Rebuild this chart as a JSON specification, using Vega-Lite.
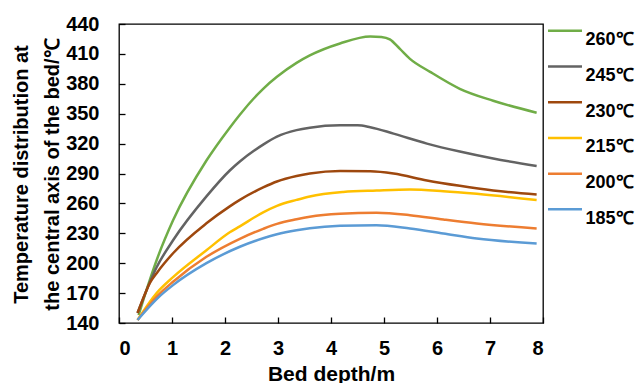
{
  "$schema": "https://vega.github.io/schema/vega-lite/v6.json",
  "width": 424,
  "height": 299,
  "autosize": "none",
  "padding": {"left": 119, "top": 24, "right": 93, "bottom": 60},
  "background": "white",
  "config": {
    "font": "Liberation Sans",
    "view": {"stroke": "black", "strokeWidth": 1.3}
  },
  "data": {
    "values": [
      {"d": 0.37, "T": 148, "s": "260℃"}, {"d": 0.58, "T": 183, "s": "260℃"}, {"d": 0.71, "T": 203, "s": "260℃"}, {"d": 1.02, "T": 243, "s": "260℃"}, {"d": 1.65, "T": 303, "s": "260℃"}, {"d": 2.09, "T": 336, "s": "260℃"}, {"d": 2.28, "T": 349, "s": "260℃"}, {"d": 2.72, "T": 375, "s": "260℃"}, {"d": 2.98, "T": 387, "s": "260℃"}, {"d": 3.35, "T": 401, "s": "260℃"}, {"d": 3.6, "T": 408.5, "s": "260℃"}, {"d": 4.17, "T": 420.5, "s": "260℃"}, {"d": 4.74, "T": 427.5, "s": "260℃"}, {"d": 4.95, "T": 427, "s": "260℃"}, {"d": 5.11, "T": 424.5, "s": "260℃"}, {"d": 5.3, "T": 415, "s": "260℃"}, {"d": 5.49, "T": 405, "s": "260℃"}, {"d": 5.87, "T": 392, "s": "260℃"}, {"d": 6.43, "T": 375, "s": "260℃"}, {"d": 7.06, "T": 363, "s": "260℃"}, {"d": 7.88, "T": 351, "s": "260℃"},
      {"d": 0.35, "T": 150, "s": "245℃"}, {"d": 0.71, "T": 196, "s": "245℃"}, {"d": 1.02, "T": 223, "s": "245℃"}, {"d": 1.65, "T": 267, "s": "245℃"}, {"d": 2.09, "T": 293, "s": "245℃"}, {"d": 2.28, "T": 302, "s": "245℃"}, {"d": 2.72, "T": 319, "s": "245℃"}, {"d": 2.98, "T": 327, "s": "245℃"}, {"d": 3.35, "T": 333.5, "s": "245℃"}, {"d": 3.6, "T": 336, "s": "245℃"}, {"d": 4.17, "T": 338.4, "s": "245℃"}, {"d": 4.5, "T": 338.4, "s": "245℃"}, {"d": 4.74, "T": 336.5, "s": "245℃"}, {"d": 5.18, "T": 330, "s": "245℃"}, {"d": 5.81, "T": 320, "s": "245℃"}, {"d": 6.43, "T": 312, "s": "245℃"}, {"d": 7.06, "T": 305, "s": "245℃"}, {"d": 7.88, "T": 297.6, "s": "245℃"},
      {"d": 0.35, "T": 150, "s": "230℃"}, {"d": 0.49, "T": 169, "s": "230℃"}, {"d": 0.58, "T": 180, "s": "230℃"}, {"d": 0.71, "T": 190, "s": "230℃"}, {"d": 1.02, "T": 210, "s": "230℃"}, {"d": 1.65, "T": 240, "s": "230℃"}, {"d": 2.09, "T": 257, "s": "230℃"}, {"d": 2.28, "T": 263.5, "s": "230℃"}, {"d": 2.72, "T": 276, "s": "230℃"}, {"d": 2.98, "T": 282, "s": "230℃"}, {"d": 3.35, "T": 287.5, "s": "230℃"}, {"d": 3.6, "T": 290, "s": "230℃"}, {"d": 4.17, "T": 292.5, "s": "230℃"}, {"d": 4.74, "T": 292.3, "s": "230℃"}, {"d": 5.18, "T": 290, "s": "230℃"}, {"d": 5.81, "T": 283, "s": "230℃"}, {"d": 6.43, "T": 277.6, "s": "230℃"}, {"d": 7.06, "T": 273, "s": "230℃"}, {"d": 7.88, "T": 269, "s": "230℃"},
      {"d": 0.35, "T": 143, "s": "215℃"}, {"d": 0.71, "T": 170, "s": "215℃"}, {"d": 1.02, "T": 186, "s": "215℃"}, {"d": 1.65, "T": 213, "s": "215℃"}, {"d": 2.09, "T": 231, "s": "215℃"}, {"d": 2.28, "T": 237, "s": "215℃"}, {"d": 2.72, "T": 251, "s": "215℃"}, {"d": 2.98, "T": 257.5, "s": "215℃"}, {"d": 3.35, "T": 263.5, "s": "215℃"}, {"d": 3.6, "T": 267, "s": "215℃"}, {"d": 4.23, "T": 271.5, "s": "215℃"}, {"d": 4.86, "T": 273, "s": "215℃"}, {"d": 5.49, "T": 274, "s": "215℃"}, {"d": 6.12, "T": 272.3, "s": "215℃"}, {"d": 6.75, "T": 269.6, "s": "215℃"}, {"d": 7.88, "T": 263.3, "s": "215℃"},
      {"d": 0.35, "T": 143, "s": "200℃"}, {"d": 0.71, "T": 166.4, "s": "200℃"}, {"d": 1.02, "T": 181.4, "s": "200℃"}, {"d": 1.65, "T": 206.4, "s": "200℃"}, {"d": 2.28, "T": 224.5, "s": "200℃"}, {"d": 2.72, "T": 234.5, "s": "200℃"}, {"d": 2.98, "T": 239.5, "s": "200℃"}, {"d": 3.35, "T": 244, "s": "200℃"}, {"d": 3.6, "T": 246.5, "s": "200℃"}, {"d": 4.17, "T": 249.5, "s": "200℃"}, {"d": 4.86, "T": 250.6, "s": "200℃"}, {"d": 5.49, "T": 248.2, "s": "200℃"}, {"d": 6.12, "T": 243.8, "s": "200℃"}, {"d": 6.75, "T": 239.8, "s": "200℃"}, {"d": 7.88, "T": 234.9, "s": "200℃"},
      {"d": 0.35, "T": 143, "s": "185℃"}, {"d": 0.74, "T": 165.5, "s": "185℃"}, {"d": 1.02, "T": 178, "s": "185℃"}, {"d": 1.65, "T": 200, "s": "185℃"}, {"d": 2.28, "T": 216.5, "s": "185℃"}, {"d": 2.72, "T": 225, "s": "185℃"}, {"d": 2.98, "T": 229, "s": "185℃"}, {"d": 3.35, "T": 233, "s": "185℃"}, {"d": 3.6, "T": 235, "s": "185℃"}, {"d": 4.17, "T": 237.5, "s": "185℃"}, {"d": 4.86, "T": 238.2, "s": "185℃"}, {"d": 5.49, "T": 234.8, "s": "185℃"}, {"d": 6.12, "T": 229.8, "s": "185℃"}, {"d": 6.75, "T": 224.8, "s": "185℃"}, {"d": 7.88, "T": 219.8, "s": "185℃"}
    ]
  },
  "mark": {"type": "line", "interpolate": "monotone", "strokeWidth": 2.5},
  "encoding": {
    "x": {
      "field": "d", "type": "quantitative",
      "scale": {"domain": [0, 8], "nice": false},
      "axis": {
        "title": "Bed depth/m", "values": [0, 1, 2, 3, 4, 5, 6, 7, 8], "format": "d",
        "grid": false, "domain": false, "tickSize": -6, "tickColor": "black", "tickWidth": 1.3,
        "labelFontSize": 20, "labelFontWeight": "bold", "labelColor": "black", "labelPadding": 21,
        "titleFontSize": 21, "titleFontWeight": "bold", "titleColor": "black", "titlePadding": 5
      }
    },
    "y": {
      "field": "T", "type": "quantitative",
      "scale": {"domain": [140, 440], "nice": false, "zero": false},
      "axis": {
        "title": ["Temperature distribution at", "the central axis of the bed/℃"],
        "values": [140, 170, 200, 230, 260, 290, 320, 350, 380, 410, 440],
        "grid": false, "domain": false, "tickSize": -6, "tickColor": "black", "tickWidth": 1.3,
        "labelFontSize": 20, "labelFontWeight": "bold", "labelColor": "black", "labelPadding": 26,
        "titleFontSize": 20, "titleFontWeight": "bold", "titleColor": "black", "titleLineHeight": 31,
        "titleX": -98, "titleY": 150, "titleAngle": -90, "titleAlign": "center", "titleBaseline": "middle"
      }
    },
    "color": {
      "field": "s", "type": "nominal",
      "scale": {
        "domain": ["260℃", "245℃", "230℃", "215℃", "200℃", "185℃"],
        "range": ["#70AD47", "#636363", "#9E480E", "#FFC000", "#ED7D31", "#5B9BD5"]
      },
      "legend": {
        "title": null, "orient": "none", "legendX": 427.5, "legendY": -2.3, "padding": 0,
        "symbolType": "M-1,-0.55L1,-0.55", "symbolSize": 1156, "symbolStrokeWidth": 2.5,
        "labelFontSize": 18, "labelFontWeight": "bold", "labelColor": "black",
        "labelBaseline": "middle", "labelOffset": 2, "rowPadding": 7.7
      }
    }
  }
}
